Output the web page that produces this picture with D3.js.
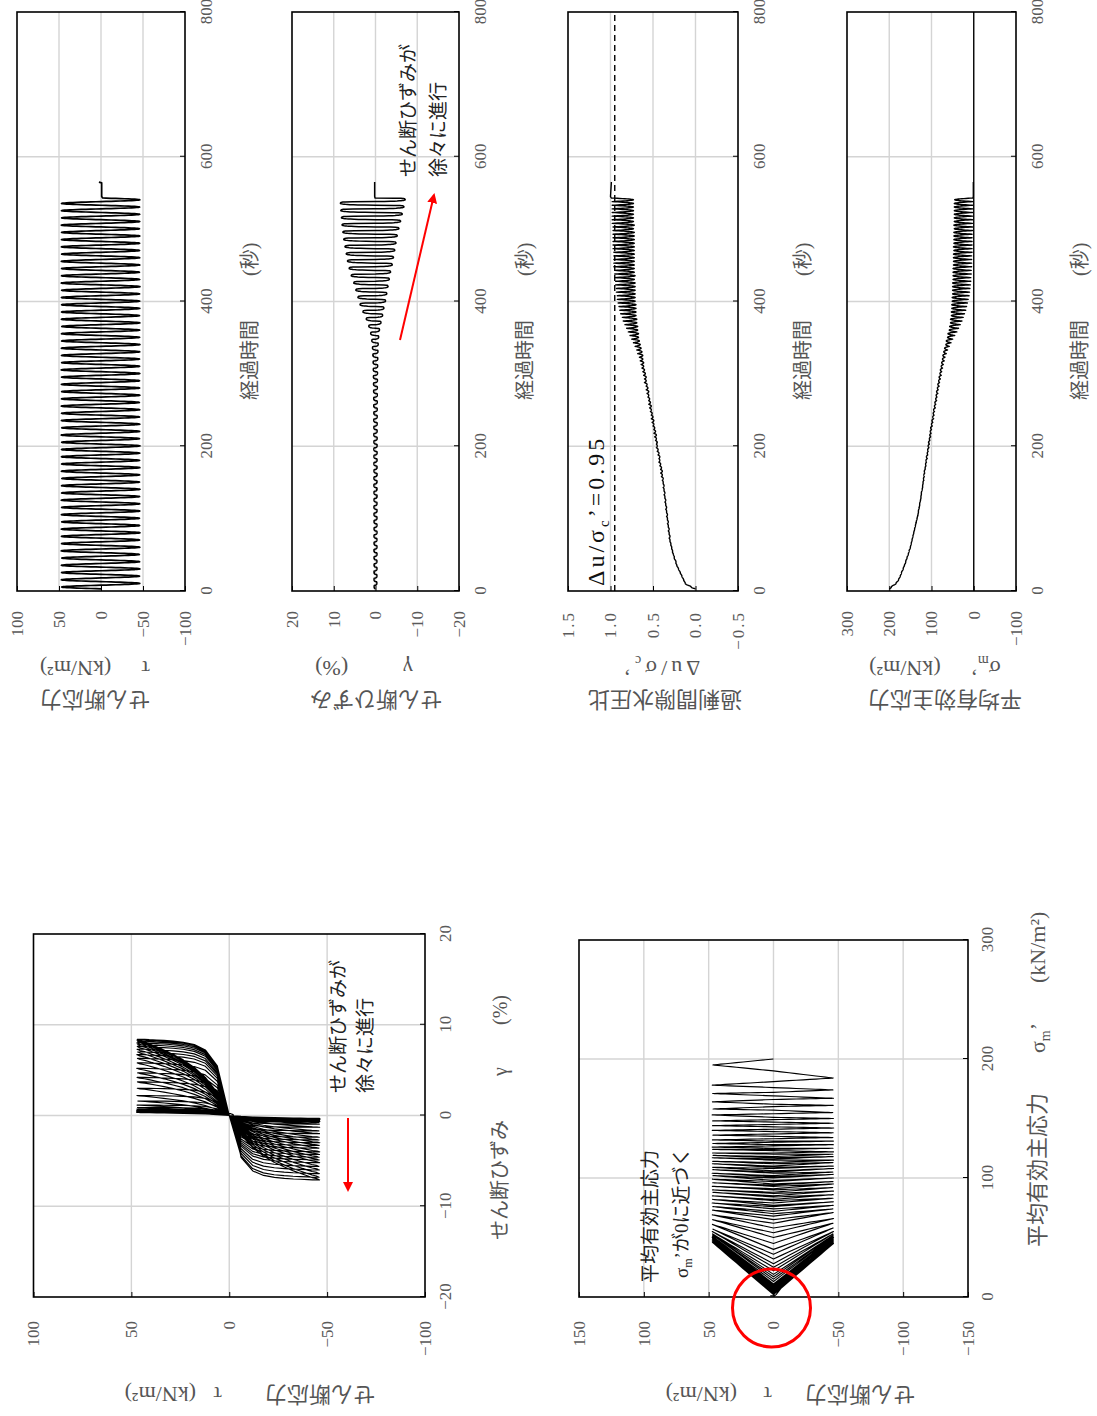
<!DOCTYPE html>
<html lang="ja"><head><meta charset="utf-8"><title>chart</title>
<script src="https://cdn.jsdelivr.net/npm/d3@7/dist/d3.min.js"></script>
<style>html,body{margin:0;padding:0;background:#fff;} svg{display:block;}</style>
</head><body>
<svg id="chart" width="1097" height="1416" xmlns="http://www.w3.org/2000/svg"></svg>
<script>
// ---------------- data ----------------
const timeTicks = [0, 200, 400, 600, 800];
const tauTicks = [-100, -50, 0, 50, 100];
const gammaTicks = [-20, -10, 0, 10, 20];
const duTicks = [-0.5, 0, 0.5, 1.0, 1.5];
const sigmaTicks = [-100, 0, 100, 200, 300];
const pathTauTicks = [-150, -100, -50, 0, 50, 100, 150];
const pathSigmaTicks = [0, 100, 200, 300];

// start time (s) of every loading cycle (period 10 s)
const cycleStart = [3,13,23,33,43,53,63,73,83,93,103,113,123,133,143,153,163,173,183,193,203,213,223,233,243,253,263,273,283,293,303,313,323,333,343,353,363,373,383,393,403,413,423,433,443,453,463,473,483,493,503,513,523,533];
// position inside one cycle (s) and the normalised shape of one loading cycle
const phaseTime = [0,0.21,0.42,0.63,0.83,1.04,1.25,1.46,1.67,1.88,2.08,2.29,2.5,2.71,2.92,3.13,3.33,3.54,3.75,3.96,4.17,4.38,4.58,4.79,5,5.21,5.42,5.63,5.83,6.04,6.25,6.46,6.67,6.88,7.08,7.29,7.5,7.71,7.92,8.13,8.33,8.54,8.75,8.96,9.17,9.38,9.58,9.79];
const phaseTau = [0,0.13,0.26,0.38,0.5,0.61,0.71,0.79,0.87,0.92,0.97,0.99,1,0.99,0.97,0.92,0.87,0.79,0.71,0.61,0.5,0.38,0.26,0.13,
  0,-0.13,-0.26,-0.38,-0.5,-0.61,-0.71,-0.79,-0.87,-0.92,-0.97,-0.99,-1,-0.99,-0.97,-0.92,-0.87,-0.79,-0.71,-0.61,-0.5,-0.38,-0.26,-0.13];
const phaseGamma = [0,0.3,0.5,0.63,0.73,0.8,0.86,0.9,0.94,0.965,0.98,0.995,1,1,1,1,0.995,0.99,0.985,0.975,0.96,0.93,0.86,0.65,
  0,-0.3,-0.5,-0.63,-0.73,-0.8,-0.86,-0.9,-0.94,-0.965,-0.98,-0.995,-1,-1,-1,-1,-0.995,-0.99,-0.985,-0.975,-0.96,-0.93,-0.86,-0.65];

// shear stress peaks per cycle (kN/m2)
const tauPos = [46.8,47.2,46.9,47.1,46.6,47.3,46.9,47.0,47.2,46.7,47.1,46.8,47.3,46.9,47.0,46.6,47.2,46.9,47.1,47.0,46.8,47.3,46.7,47.1,46.9,47.2,47.0,46.8,47.1,46.9,47.3,46.8,47.0,47.2,46.9,47.1,46.7,47.2,47.0,46.9,47.1,46.8,47.3,47.0,46.9,47.2,46.8,47.1,47.0,46.9,47.2,46.8,47.1,47.0];
const tauNeg = [-46.1,-45.8,-46.3,-46.0,-45.7,-46.2,-45.9,-46.4,-46.0,-45.8,-46.2,-46.1,-45.9,-46.3,-45.8,-46.0,-46.2,-45.9,-46.1,-46.3,-45.8,-46.0,-46.2,-45.9,-46.1,-45.7,-46.3,-46.0,-45.9,-46.2,-46.0,-45.8,-46.1,-46.3,-45.9,-46.0,-46.2,-45.8,-46.1,-46.0,-45.9,-46.3,-46.0,-45.8,-46.2,-46.1,-45.9,-46.0,-46.2,-45.8,-46.1,-46.0,-45.9,-46.2];
// shear strain peaks per cycle (%)
const gammaPos = [0.33,0.35,0.36,0.34,0.35,0.37,0.35,0.36,0.34,0.35,0.36,0.37,0.35,0.36,0.38,0.37,0.36,0.38,0.37,0.39,0.38,0.40,0.39,0.41,0.40,0.42,0.43,0.45,0.47,0.50,0.53,0.57,0.63,0.72,0.88,1.15,1.6,2.2,3.0,3.7,4.2,4.7,5.2,5.8,6.3,6.7,7.0,7.3,7.6,7.8,8.0,8.15,8.3,8.4];
const gammaNeg = [-0.32,-0.34,-0.35,-0.34,-0.36,-0.35,-0.34,-0.36,-0.35,-0.35,-0.36,-0.35,-0.37,-0.36,-0.36,-0.38,-0.37,-0.37,-0.38,-0.38,-0.39,-0.39,-0.40,-0.40,-0.41,-0.42,-0.43,-0.44,-0.46,-0.48,-0.51,-0.54,-0.58,-0.64,-0.75,-0.95,-1.3,-1.7,-2.0,-2.4,-2.7,-3.0,-3.3,-3.6,-4.0,-4.3,-4.6,-4.9,-5.2,-5.6,-6.0,-6.4,-6.8,-7.1];
// mean effective stress per cycle (kN/m2): at start, +peak, mid zero-crossing, -peak
const sigmaZ0 = [200,181,172,166,160,154,149,145,141,137,133,130,127,124,121,118,116,113,110,108,105,102,100,97,94,91,88,85,82,79,76,72,68,62,54,45,36,28,22,17,13,10,8,7,6,5,5,4,4,4,3,3,3,3];
const sigmaP1 = [195,178,171,164,158,153,148,144,140,136,132,129,126,124,121,119,117,114,112,109,107,104,102,99,96,93,90,88,85,82,79,76,73,69,65,61,57,55,53,52,51,50,50,49,49,48,48,48,47,47,47,46,46,46];
const sigmaZ2 = [190,176,169,162,157,151,147,143,139,135,131,128,125,123,120,117,115,112,109,106,104,101,98,95,93,90,87,84,81,77,74,70,65,58,50,40,32,25,19,15,11,9,7,6,5,5,4,4,4,3,3,3,2,2];
const sigmaP3 = [184,174,167,161,155,150,146,142,138,134,131,128,125,122,120,118,115,113,110,108,105,103,100,97,95,92,89,86,83,80,77,74,71,66,62,58,55,53,52,51,50,50,49,49,48,48,47,47,47,46,46,46,46,45];
// excess pore pressure ratio per cycle: at start, +peak, mid zero-crossing, -peak
const duZ0 = [0,.13,.17,.21,.24,.27,.29,.31,.32,.33,.34,.35,.36,.37,.38,.39,.41,.42,.43,.45,.46,.48,.49,.51,.52,.54,.55,.57,.58,.60,.62,.64,.66,.69,.73,.77,.81,.85,.88,.90,.92,.93,.94,.95,.95,.96,.96,.97,.97,.97,.97,.98,.98,.98];
const duP1 = [.05,.14,.18,.22,.25,.27,.29,.30,.31,.32,.33,.34,.35,.36,.37,.38,.39,.41,.42,.44,.45,.46,.48,.49,.51,.52,.54,.55,.57,.58,.60,.61,.62,.64,.66,.67,.68,.69,.70,.70,.71,.71,.71,.71,.72,.72,.72,.72,.72,.72,.72,.73,.73,.73];
const duZ2 = [.09,.15,.19,.23,.25,.28,.30,.31,.32,.33,.34,.35,.36,.37,.38,.40,.41,.43,.44,.46,.47,.49,.50,.52,.53,.55,.56,.58,.60,.61,.63,.65,.68,.71,.75,.79,.83,.86,.89,.91,.92,.93,.94,.95,.96,.96,.96,.97,.97,.97,.98,.98,.98,.98];
const duP3 = [.12,.16,.20,.23,.26,.28,.30,.31,.32,.33,.34,.35,.36,.37,.38,.39,.40,.42,.43,.45,.46,.47,.49,.50,.52,.53,.55,.56,.58,.59,.61,.62,.63,.65,.67,.68,.69,.70,.70,.71,.71,.71,.72,.72,.72,.72,.72,.72,.72,.73,.73,.73,.73,.73];
// record after the last cycle
const tailTime = [543, 545, 564, 565];
const tailTau = [-2, -0.8, -0.8, 2.5];
const tailGamma = [0.1, 0.2, 0.2, 0.2];
const tailSigma = [2, 1, 1, 1];
const tailDu = [0.99, 1.0, 0.99, 0.99];
const limitRatio = 0.95;

// ---------------- build the record ----------------
const series = [];
const nC = cycleStart.length;
const qLen = phaseTime.length / 4;
for (let k = 0; k < nC; k++) {
  for (let j = 0; j < phaseTime.length; j++) {
    const pt = phaseTau[j], pg = phaseGamma[j], w = Math.abs(pt), q = Math.floor(j / qLen);
    const nextS = k + 1 < nC ? sigmaZ0[k + 1] : tailSigma[0];
    const nextD = k + 1 < nC ? duZ0[k + 1] : tailDu[0];
    const zS = q === 0 ? sigmaZ0[k] : (q < 3 ? sigmaZ2[k] : nextS);
    const pS = q < 2 ? sigmaP1[k] : sigmaP3[k];
    const zD = q === 0 ? duZ0[k] : (q < 3 ? duZ2[k] : nextD);
    const pD = q < 2 ? duP1[k] : duP3[k];
    series.push({
      t: cycleStart[k] + phaseTime[j],
      tau: pt >= 0 ? pt * tauPos[k] : -pt * tauNeg[k],
      gamma: pg >= 0 ? pg * gammaPos[k] : -pg * gammaNeg[k],
      sigma: zS + (pS - zS) * w,
      du: zD + (pD - zD) * w
    });
  }
}
tailTime.forEach((t, i) => series.push({ t, tau: tailTau[i], gamma: tailGamma[i], sigma: tailSigma[i], du: tailDu[i] }));

// ---------------- drawing ----------------
const svg = d3.select('#chart');
svg.append('rect').attr('width', 1097).attr('height', 1416).attr('fill', '#fff');
const defs = svg.append('defs');
defs.append('marker').attr('id', 'ah').attr('viewBox', '0 0 10 10').attr('refX', 8).attr('refY', 5)
  .attr('markerWidth', 5).attr('markerHeight', 5).attr('orient', 'auto')
  .append('path').attr('d', 'M0,0L10,5L0,10Z').attr('fill', '#ff0000');

// the whole figure is laid out in landscape and turned a quarter turn
const root = svg.append('g').attr('transform', 'translate(0,1416) rotate(-90)');

const NUM = "'Liberation Serif','Noto Sans CJK JP',serif";
const JP = "'Noto Sans CJK JP','Liberation Serif',sans-serif";
const MIX = "'Liberation Serif','Noto Sans CJK JP',serif";
const GRID = '#d4d4d4', LABEL = '#5a5a5a', TITLE = '#555';
const TICK = 17;

const fmtNum = dec => d => (d < 0 ? '\u2212' : '') + Math.abs(d).toFixed(dec);

function styleAxis(sel, size, ls) {
  sel.select('.domain').remove();
  sel.selectAll('.tick line').attr('stroke', '#000').attr('stroke-width', 1);
  const t = sel.selectAll('.tick text').attr('font-family', NUM).attr('font-size', size).attr('fill', LABEL);
  if (ls) t.attr('letter-spacing', ls);
}

function label(parent, X, Y, rot, pieces, opt) {
  const t = parent.append('text')
    .attr('transform', `translate(${X},${Y})` + (rot ? ` rotate(${rot})` : ''))
    .attr('font-size', opt.size).attr('fill', opt.color).attr('font-family', opt.family || MIX)
    .attr('text-anchor', opt.anchor || 'start');
  if (opt.ls) t.attr('letter-spacing', opt.ls);
  pieces.forEach(p => {
    const s = t.append('tspan').text(p.t);
    if (p.x !== undefined) s.attr('x', p.x);
    if (p.dx !== undefined) s.attr('dx', p.dx);
    if (p.dy !== undefined) s.attr('dy', p.dy);
    if (p.size !== undefined) s.attr('font-size', p.size);
  });
  return t;
}

function gridLines(g, vals, scale, fixed0, fixed1, vertical) {
  g.append('g').selectAll('line').data(vals).join('line')
    .attr(vertical ? 'x1' : 'y1', d => scale(d)).attr(vertical ? 'x2' : 'y2', d => scale(d))
    .attr(vertical ? 'y1' : 'x1', fixed0).attr(vertical ? 'y2' : 'x2', fixed1)
    .attr('stroke', GRID).attr('stroke-width', 1.4);
}

// ---- four time histories ----
const xT = d3.scaleLinear().domain([0, 800]).range([825, 1404]);
const panels = [
  { field: 'tau', y0: 17, y1: 185, domain: [-100, 100], ticks: tauTicks, grid: [-50, 0, 50], dec: 0, sw: 1.7,
    t1: 'せん断応力', c1: 95, t2: [{ t: 'τ' }, { t: '(kN/m²)', dx: 30 }], c2: 95, tx: 257 },
  { field: 'gamma', y0: 292, y1: 459, domain: [-20, 20], ticks: gammaTicks, grid: [-10, 0, 10], dec: 0, sw: 1.5,
    t1: 'せん断ひずみ', c1: 376, t2: [{ t: 'γ' }, { t: '(%)', dx: 55 }], c2: 364, tx: 532 },
  { field: 'du', y0: 568, y1: 738, domain: [-0.5, 1.5], ticks: duTicks, grid: [0, 0.5, 1.0], dec: 1, sw: 1.4, ls: 2,
    t1: '過剰間隙水圧比', c1: 665, t2: [{ t: 'Δu/σ' }, { t: 'c', dy: 5, size: 14 }, { t: '’', dy: -5 }], c2: 660, ls2: 4, tx: 810 },
  { field: 'sigma', y0: 847, y1: 1016, domain: [-100, 300], ticks: sigmaTicks, grid: [100, 200], dec: 0, sw: 1.4,
    t1: '平均有効主応力', c1: 945, t2: [{ t: 'σ' }, { t: 'm', dy: 5, size: 14 }, { t: '’', dy: -5 }, { t: '(kN/m²)', dx: 30 }], c2: 935, tx: 1087, zero: true }
];
panels.forEach(p => {
  const g = root.append('g');
  const y = d3.scaleLinear().domain(p.domain).range([p.y1, p.y0]);
  gridLines(g, [200, 400, 600], xT, p.y0, p.y1, true);
  gridLines(g, p.grid, y, 825, 1404, false);
  if (p.zero) g.append('line').attr('x1', 825).attr('x2', 1404).attr('y1', y(0)).attr('y2', y(0)).attr('stroke', '#000').attr('stroke-width', 1.4);
  if (p.field === 'du') {
    g.append('line').attr('x1', xT(0)).attr('x2', xT(800)).attr('y1', y(limitRatio)).attr('y2', y(limitRatio))
      .attr('stroke', '#000').attr('stroke-width', 1.4).attr('stroke-dasharray', '6,4');
  }
  g.append('path').datum(series)
    .attr('d', d3.line().x(d => xT(d.t)).y(d => y(d[p.field])))
    .attr('fill', 'none').attr('stroke', '#000').attr('stroke-width', p.sw).attr('stroke-linejoin', 'round');
  g.append('rect').attr('x', 825).attr('y', p.y0).attr('width', 579).attr('height', p.y1 - p.y0)
    .attr('fill', 'none').attr('stroke', '#000').attr('stroke-width', 1.6);
  g.append('g').attr('transform', `translate(0,${p.y1})`)
    .call(d3.axisBottom(xT).tickValues(timeTicks).tickSizeInner(-5).tickSizeOuter(0).tickPadding(15))
    .call(s => styleAxis(s, TICK));
  g.append('g').attr('transform', 'translate(825,0)')
    .call(d3.axisLeft(y).tickValues(p.ticks).tickFormat(fmtNum(p.dec)).tickSizeInner(-5).tickSizeOuter(0).tickPadding(20))
    .call(s => styleAxis(s, TICK, p.ls));
  // axis titles
  label(g, 0, p.tx, 0, [{ t: '経過時間', x: 1016 }, { t: '(秒)', x: 1140 }], { size: 20, color: TITLE });
  label(g, 724, p.c1, -90, [{ t: p.t1 }], { size: 22, color: TITLE, anchor: 'middle' });
  label(g, 755, p.c2, -90, p.t2, { size: 22, color: TITLE, anchor: 'middle', ls: p.ls2 });
});

// annotations on the time histories
label(root, 1239, 415, 0, [{ t: 'せん断ひずみが' }], { size: 19, color: '#222', family: JP });
label(root, 1239, 445, 0, [{ t: '徐々に進行' }], { size: 19, color: '#222', family: JP });
root.append('line').attr('x1', 1076).attr('y1', 400).attr('x2', 1221).attr('y2', 434)
  .attr('stroke', '#ff0000').attr('stroke-width', 2).attr('marker-end', 'url(#ah)');
label(root, 830, 604, 0, [{ t: 'Δu/σ' }, { t: 'c', dy: 5, size: 15 }, { t: '’=0.95', dy: -5 }], { size: 24, color: '#111', family: NUM, ls: 3 });

// ---- hysteresis: shear stress vs shear strain ----
{
  const g = root.append('g');
  const x = d3.scaleLinear().domain([-20, 20]).range([119, 482]);
  const y = d3.scaleLinear().domain([-100, 100]).range([425, 33.5]);
  gridLines(g, [-10, 0, 10], x, 33.5, 425, true);
  gridLines(g, [-50, 0, 50], y, 119, 482, false);
  g.append('path').datum(series)
    .attr('d', d3.line().x(d => x(d.gamma)).y(d => y(d.tau)))
    .attr('fill', 'none').attr('stroke', '#000').attr('stroke-width', 1.15).attr('stroke-linejoin', 'round');
  g.append('rect').attr('x', 119).attr('y', 33.5).attr('width', 363).attr('height', 391.5)
    .attr('fill', 'none').attr('stroke', '#000').attr('stroke-width', 1.6);
  g.append('g').attr('transform', 'translate(0,425)')
    .call(d3.axisBottom(x).tickValues(gammaTicks).tickFormat(fmtNum(0)).tickSizeInner(-5).tickSizeOuter(0).tickPadding(14))
    .call(s => styleAxis(s, TICK));
  g.append('g').attr('transform', 'translate(119,0)')
    .call(d3.axisLeft(y).tickValues(tauTicks).tickFormat(fmtNum(0)).tickSizeInner(-5).tickSizeOuter(0).tickPadding(24))
    .call(s => styleAxis(s, TICK));
  label(g, 0, 507, 0, [{ t: 'せん断ひずみ', x: 176 }, { t: 'γ', x: 340 }, { t: '(%)', x: 391 }], { size: 20, color: TITLE });
  label(g, 29, 375, -90, [{ t: 'せん断応力', x: 0 }, { t: 'τ', x: 153 }, { t: '(kN/m²)', x: 179 }], { size: 22, color: TITLE });
  label(g, 323, 345, 0, [{ t: 'せん断ひずみが' }], { size: 19, color: '#222', family: JP });
  label(g, 323, 372, 0, [{ t: '徐々に進行' }], { size: 19, color: '#222', family: JP });
  g.append('line').attr('x1', 298).attr('y1', 348).attr('x2', 226).attr('y2', 348)
    .attr('stroke', '#ff0000').attr('stroke-width', 2).attr('marker-end', 'url(#ah)');
}

// ---- effective stress path: shear stress vs mean effective stress ----
{
  const g = root.append('g');
  const x = d3.scaleLinear().domain([0, 300]).range([119, 476]);
  const y = d3.scaleLinear().domain([-150, 150]).range([968, 579]);
  gridLines(g, [100, 200], x, 579, 968, true);
  gridLines(g, [-100, -50, 0, 50, 100], y, 119, 476, false);
  g.append('path').datum(series)
    .attr('d', d3.line().x(d => x(d.sigma)).y(d => y(d.tau)))
    .attr('fill', 'none').attr('stroke', '#000').attr('stroke-width', 1.15).attr('stroke-linejoin', 'round');
  g.append('rect').attr('x', 119).attr('y', 579).attr('width', 357).attr('height', 389)
    .attr('fill', 'none').attr('stroke', '#000').attr('stroke-width', 1.6);
  g.append('g').attr('transform', 'translate(0,968)')
    .call(d3.axisBottom(x).tickValues(pathSigmaTicks).tickFormat(fmtNum(0)).tickSizeInner(-5).tickSizeOuter(0).tickPadding(13))
    .call(s => styleAxis(s, TICK));
  g.append('g').attr('transform', 'translate(119,0)')
    .call(d3.axisLeft(y).tickValues(pathTauTicks).tickFormat(fmtNum(0)).tickSizeInner(-5).tickSizeOuter(0).tickPadding(24))
    .call(s => styleAxis(s, TICK));
  label(g, 0, 1045, 0, [{ t: '平均有効主応力', x: 169 }, { t: 'σ', x: 363 }, { t: 'm', dy: 5, size: 14 }, { t: '’', dy: -5 }, { t: '(kN/m²)', x: 433 }], { size: 22, color: TITLE });
  label(g, 29, 915, -90, [{ t: 'せん断応力', x: 0 }, { t: 'τ', x: 143 }, { t: '(kN/m²)', x: 178 }], { size: 22, color: TITLE });
  label(g, 133, 657, 0, [{ t: '平均有効主応力' }], { size: 19, color: '#222', family: JP });
  label(g, 138, 688, 0, [{ t: 'σ' }, { t: 'm', dy: 4, size: 12 }, { t: '’', dy: -4 }, { t: 'が0に近づく' }], { size: 19, color: '#222' });
  g.append('circle').attr('cx', x(0) - 11).attr('cy', y(0) - 2).attr('r', 39)
    .attr('fill', 'none').attr('stroke', '#ff0000').attr('stroke-width', 3);
}
</script>
</body></html>
